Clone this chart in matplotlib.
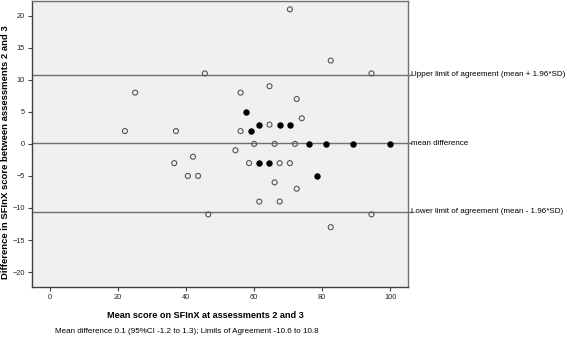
import matplotlib
matplotlib.use('Agg')
from matplotlib import pyplot as plt

plt.rcParams['font.family'] = ['Liberation Sans', 'DejaVu Sans']

# open circles
open_x = [25, 22, 37, 36.5, 42, 40.5, 43.5, 70.5, 82.5, 45.5, 94.5, 56, 64.5, 72.5,
          74, 64.5, 56, 60, 66, 72, 54.5, 58.5, 67.5, 70.5, 66, 72.5, 61.5, 67.5,
          46.5, 94.5, 82.5]
open_y = [8, 2, 2, -3, -2, -5, -5, 21, 13, 11, 11, 8, 9, 7,
          4, 3, 2, 0, 0, 0, -1, -3, -3, -3, -6, -7, -9, -9,
          -11, -11, -13]

# filled circles
filled_x = [57.5, 61.5, 67.5, 70.5, 59, 76, 81, 89, 100, 61.5, 64.5, 78.5]
filled_y = [5, 3, 3, 3, 2, 0, 0, 0, 0, -3, -3, -5]

mean_diff = 0.1
upper_loa = 10.8
lower_loa = -10.6

line_labels = ['Upper limit of agreement (mean + 1.96*SD)', 'mean difference',
               'Lower limit of agreement (mean - 1.96*SD)']

fig = plt.figure(figsize=(5.67, 3.37), dpi=100)
ax = fig.add_axes([0.056, 0.149, 0.664, 0.848])
ax.set_facecolor('#f0f0f0')

for val, lab in zip([upper_loa, mean_diff, lower_loa], line_labels):
    ax.axhline(val, color='#707070', lw=1.0, zorder=1)
    ax.annotate(lab, xy=(1.0, val), xycoords=('axes fraction', 'data'),
                xytext=(2.2, 0), textcoords='offset points', va='center', ha='left',
                fontsize=5.75, annotation_clip=False)
    ax.plot([1.0, 1.008], [val, val], transform=ax.get_yaxis_transform(),
            color='#707070', lw=1.0, clip_on=False)

ax.scatter(open_x, open_y, s=13, facecolors='none', edgecolors='#555555',
           linewidths=0.8, zorder=3)
ax.scatter(filled_x, filled_y, s=13, color='black', zorder=3)

ax.set_xlim(-5.4, 105.3)
ax.set_ylim(-22.3, 22.3)
ax.set_xticks([0, 20, 40, 60, 80, 100])
ax.set_yticks([-20, -15, -10, -5, 0, 5, 10, 15, 20])
ax.tick_params(labelsize=5.3, length=3, width=0.8, pad=2, color='#404040',
               labelcolor='#222222')
for s in ax.spines.values():
    s.set_color('#707070')
    s.set_linewidth(1.0)
ax.spines['left'].set_color('#404040')
ax.spines['bottom'].set_color('#404040')

ax.set_xlabel('Mean score on SFInX at assessments 2 and 3', fontsize=6.6, fontweight='bold')
ax.xaxis.set_label_coords(0.46, -0.085)
ax.set_ylabel('Difference in SFInX score between assessments 2 and 3', fontsize=6.8,
              fontweight='bold')
ax.yaxis.set_label_coords(-0.057, 0.47)

fig.text(0.097, 0.017, 'Mean difference 0.1 (95%CI -1.2 to 1.3); Limits of Agreement -10.6 to 10.8',
         fontsize=5.8, ha='left', va='center')

plt.savefig('out.png', dpi=100)
